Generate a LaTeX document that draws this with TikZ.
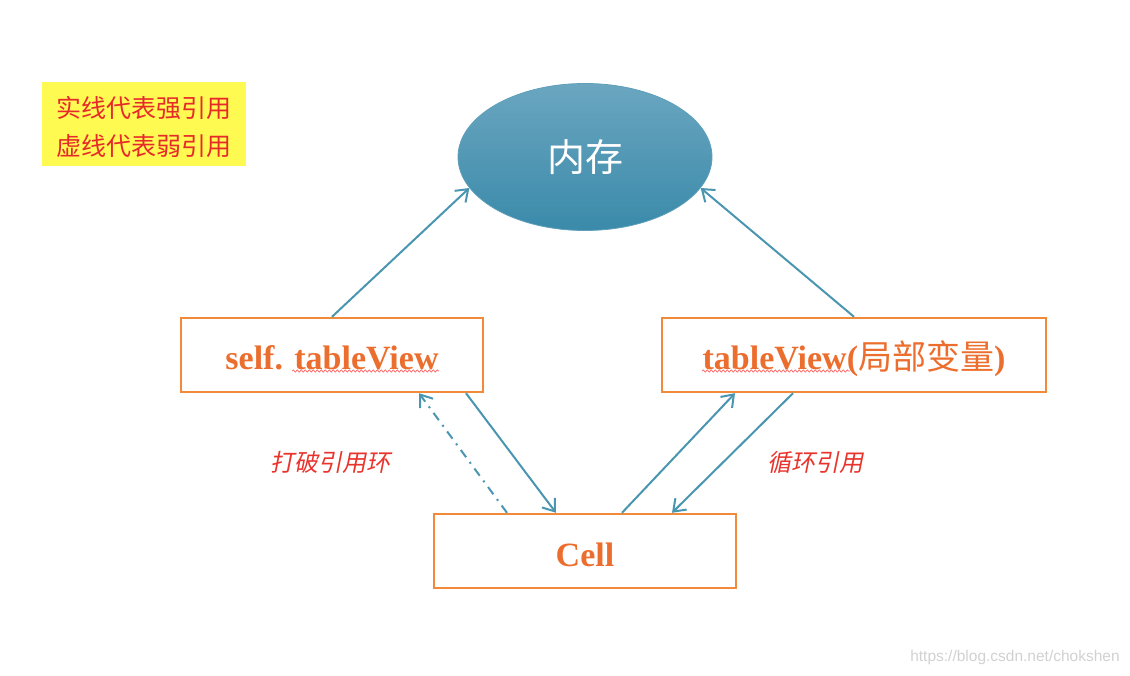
\documentclass[tikz,border=0pt]{standalone}
\usepackage{fontspec}
\setmainfont{Liberation Serif}
\newfontfamily\cjk{Noto Sans CJK SC}
\newfontfamily\cjkslant[FakeSlant=0.2]{Noto Sans CJK SC}
\newfontfamily\urlfont{Liberation Sans}
\usetikzlibrary{shapes.geometric,arrows.meta,decorations.pathmorphing}
\definecolor{boxorange}{HTML}{F28A3C}
\definecolor{textorange}{HTML}{EC6E2E}
\definecolor{linkblue}{HTML}{4A96B0}
\definecolor{notered}{HTML}{E8342C}
\definecolor{legendyellow}{HTML}{FFFA52}
\definecolor{legendred}{HTML}{E62A2A}
\definecolor{memtop}{HTML}{6BA6C0}
\definecolor{membottom}{HTML}{3A8AAA}
\definecolor{memedge}{HTML}{5E9FBA}
\begin{document}
\begin{tikzpicture}[x=1pt,y=-1pt,
  objbox/.style={draw=boxorange,line width=2.4pt,minimum width=302pt,minimum height=74pt,
    inner sep=0pt,text height=30pt,text depth=0pt,text=textorange,
    font=\fontsize{34}{38}\selectfont\bfseries},
  ref/.style={draw=linkblue,line width=2pt,-{Straight Barb[length=11pt,width=16pt]}},
  weakref/.style={ref,dash pattern=on 9pt off 6pt on 2pt off 6pt},
  note/.style={text=notered,font=\fontsize{24}{28}\selectfont\cjkslant},
  squiggle/.style={draw=red!60,line width=0.7pt,decorate,
    decoration={snake,amplitude=1.2pt,segment length=4pt}}]
\useasboundingbox (0,0) rectangle (1130,676);

% legend
\node[fill=legendyellow,minimum width=204pt,minimum height=84pt,align=left,
  text height=66pt,text=legendred,font=\fontsize{25}{38}\selectfont\cjk] (legend) at (144,124)
  {实线代表强引用\\虚线代表弱引用};

% memory
\node[ellipse,minimum width=254pt,minimum height=147pt,inner sep=0pt,
  draw=memedge,line width=0.8pt,top color=memtop,bottom color=membottom,
  text=white,font=\fontsize{38}{40}\selectfont\cjk] (mem) at (585,157) {内存};

% objects
\node[objbox] (self) at (332,355) {self. tableView};
\node[objbox,minimum width=384pt] (local) at (854,355) {tableView({\mdseries\cjk 局部变量})};
\node[objbox] (cell) at (585,551) {Cell};

\draw[squiggle] ([xshift=-40pt,yshift=-16pt]self.center) -- ([xshift=107pt,yshift=-16pt]self.center);
\draw[squiggle] ([xshift=-152pt,yshift=-16pt]local.center) -- ([xshift=-4pt,yshift=-16pt]local.center);

% references
\draw[ref] (self.north) -- (mem.195);
\draw[ref] (local.north) -- (mem.345);
\draw[ref] ([xshift=134pt]self.south) -- ([xshift=-29pt]cell.north);
\draw[weakref] ([xshift=-78pt]cell.north) -- ([xshift=87pt]self.south);
\draw[ref] ([xshift=37pt]cell.north) -- ([xshift=-119pt]local.south);
\draw[ref] ([xshift=-61pt]local.south) -- ([xshift=87pt]cell.north);

\node[note] (breaklbl) at (330,462) {打破引用环};
\node[note] (cyclelbl) at (815,462) {循环引用};

\node[text=black!18,font=\fontsize{15.5}{17}\selectfont\urlfont] (mark) at (1015,657)
  {https://blog.csdn.net/chokshen};
\end{tikzpicture}
\end{document}
